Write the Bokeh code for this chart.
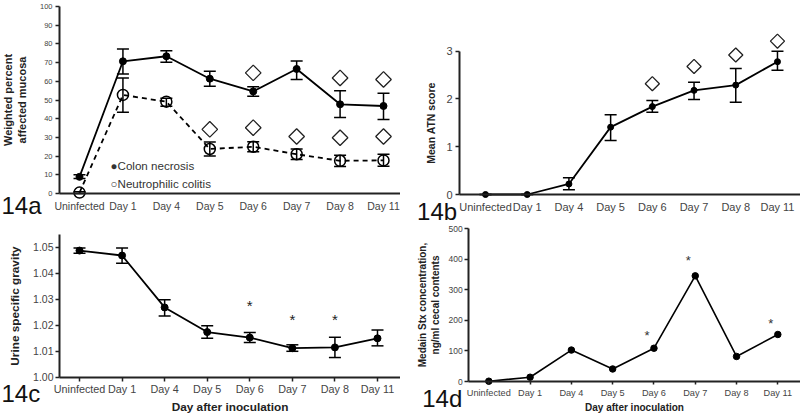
from bokeh.plotting import figure
from bokeh.models import (Range1d, FixedTicker, Whisker, TeeHead, ColumnDataSource,
                          Label, NumeralTickFormatter, LinearAxis)
from bokeh.layouts import column, row
from bokeh.embed import file_html
from bokeh.resources import INLINE
from bokeh.core.properties import value
import math

FONT = "Liberation Sans"

days = ["Uninfected", "Day 1", "Day 4", "Day 5", "Day 6", "Day 7", "Day 8", "Day 11"]

# 14a  weighted percent affected mucosa
necrosis = [8.9, 70.7, 73.4, 61.4, 54.6, 66.6, 47.7, 46.8]
necrosis_lo = [8.0, 63.9, 70.2, 57.3, 52.0, 61.0, 40.7, 39.6]
necrosis_hi = [10.0, 77.3, 76.4, 65.4, 57.1, 70.9, 55.0, 53.6]
colitis = [0.5, 52.7, 49.1, 23.8, 25.0, 21.0, 17.5, 17.7]
colitis_lo = [0.0, 43.4, 46.6, 20.0, 22.3, 18.2, 14.5, 14.6]
colitis_hi = [1.0, 61.8, 50.9, 27.5, 27.7, 23.8, 20.5, 21.0]
sig_a_upper_days = ["Day 6", "Day 8", "Day 11"]
sig_a_upper = [64.5, 61.8, 61.0]
sig_a_lower_days = ["Day 5", "Day 6", "Day 7", "Day 8", "Day 11"]
sig_a_lower = [34.3, 35.2, 30.5, 29.8, 30.5]
ticks_a = [0, 10, 20, 30, 40, 50, 60, 70, 80, 90, 100]

# 14b  mean ATN score
atn = [0.0, 0.0, 0.22, 1.41, 1.84, 2.18, 2.29, 2.78]
atn_lo = [0.0, 0.0, 0.10, 1.13, 1.72, 1.99, 1.93, 2.60]
atn_hi = [0.0, 0.0, 0.35, 1.67, 1.97, 2.35, 2.64, 3.00]
sig_b_days = ["Day 6", "Day 7", "Day 8", "Day 11"]
sig_b = [2.32, 2.68, 2.92, 3.21]
ticks_b = [0, 1, 2, 3]

# 14c  urine specific gravity
usg = [1.0487, 1.0468, 1.0268, 1.0173, 1.0152, 1.0111, 1.0114, 1.0149]
usg_lo = [1.0477, 1.0438, 1.0235, 1.0149, 1.0133, 1.0099, 1.0075, 1.0120]
usg_hi = [1.0497, 1.0497, 1.0298, 1.0197, 1.0171, 1.0124, 1.0153, 1.0181]
sig_c_days = ["Day 6", "Day 7", "Day 8"]
sig_c = [1.0286, 1.0232, 1.0232]
ticks_c = [1.00, 1.01, 1.02, 1.03, 1.04, 1.05]

# 14d  median Stx concentration
stx = [1, 14, 103, 41, 109, 346, 82, 154]
sig_d_days = ["Day 6", "Day 7", "Day 11"]
sig_d = [162, 405, 200]
ticks_d = [0, 100, 200, 300, 400, 500]

idx = {d: i for i, d in enumerate(days)}
xpos = list(range(len(days)))
AX = "#222222"
TXT = "#444444"


def make_panel(ox, oy, W, H, yaxis_sx, x0_sx, px_per_cat, v0, v0_sy, px_per_unit, ytop):
    """Figure whose frame is the whole canvas; axes are pinned with fixed_location."""
    xs = (ox - x0_sx) / px_per_cat
    xe = (ox + W - x0_sx) / px_per_cat
    ye = v0 + (v0_sy - oy) / px_per_unit
    ys = v0 - (oy + H - v0_sy) / px_per_unit
    x_axis_at = (yaxis_sx - x0_sx) / px_per_cat
    p = figure(width=W, height=H, x_range=Range1d(xs, xe), y_range=Range1d(ys, ye),
               output_backend="svg", toolbar_location=None,
               x_axis_location=None, y_axis_location=None,
               min_border_left=0, min_border_right=0, min_border_top=0, min_border_bottom=0)
    p.outline_line_color = None
    p.background_fill_color = "white"
    p.border_fill_color = "white"
    for g in p.grid:
        g.visible = False

    xa = LinearAxis(fixed_location=v0, bounds=(x_axis_at, xe),
                    ticker=FixedTicker(ticks=xpos),
                    major_label_overrides={i: d for i, d in enumerate(days)})
    ya = LinearAxis(fixed_location=x_axis_at, bounds=(v0, ytop))
    for ax in (xa, ya):
        ax.axis_line_color = AX
        ax.axis_line_width = 2
        ax.major_tick_line_color = AX
        ax.major_tick_line_width = 1.5
        ax.major_tick_out = 4
        ax.major_tick_in = 0
        ax.minor_tick_line_color = None
        ax.major_label_text_color = TXT
        ax.major_label_text_font = FONT
        ax.axis_label_text_font = FONT
        ax.axis_label_text_font_style = "bold"
        ax.axis_label_text_color = "#222222"
    p.add_layout(xa, "below")
    p.add_layout(ya, "left")
    return p, xa, ya


def whiskers(p, y_lo, y_hi, w=1.5, head=12):
    src = ColumnDataSource(dict(x=xpos, lo=y_lo, hi=y_hi))
    p.add_layout(Whisker(source=src, base="x", lower="lo", upper="hi",
                         line_color="black", line_width=w,
                         lower_head=TeeHead(size=head, line_width=w, line_color="black"),
                         upper_head=TeeHead(size=head, line_width=w, line_color="black")))


def panel_label(p, x, y, text):
    p.add_layout(Label(x=x, y=y, text=text, text_font=FONT, text_font_size="24px",
                       text_color="#111111", text_baseline="middle"))


# ---------- 14a ----------
pa, xa, ya = make_panel(0, 0, 400, 224, 59, 79, 43.43, 0, 193, 1.87, 100)
ya.ticker = FixedTicker(ticks=ticks_a)
ya.major_label_text_font_size = "7.5px"
ya.major_label_standoff = 3
ya.axis_label = "Weighted percent\naffected mucosa"
ya.axis_label_text_font_size = "11px"
ya.axis_label_standoff = 9
xa.major_label_text_font_size = "10.5px"
xa.major_label_standoff = 6
xa.major_tick_out = 0

whiskers(pa, necrosis_lo, necrosis_hi)
whiskers(pa, colitis_lo, colitis_hi)
pa.line(xpos, necrosis, line_color="black", line_width=1.8)
pa.scatter(xpos, necrosis, size=7, color="black")
pa.line(xpos, colitis, line_color="black", line_width=1.8, line_dash="5 4")
pa.scatter(xpos, colitis, size=11, line_color="black", line_width=1.5, fill_color=None)
pa.scatter([idx[d] for d in sig_a_upper_days], sig_a_upper, marker="square", angle=math.pi / 4,
           size=11, line_color="#222222", line_width=1.3, fill_color=None)
pa.scatter([idx[d] for d in sig_a_lower_days], sig_a_lower, marker="square", angle=math.pi / 4,
           size=11, line_color="#222222", line_width=1.3, fill_color=None)
pa.add_layout(Label(x=0.714, y=15.0, text="\u25cfColon necrosis", text_font=FONT,
                    text_font_size="11.6px", text_color="#333333", text_baseline="middle"))
pa.add_layout(Label(x=0.714, y=5.5, text="\u25cbNeutrophilic colitis", text_font=FONT,
                    text_font_size="11.6px", text_color="#333333", text_baseline="middle"))
panel_label(pa, -1.796, -6.4, "14a")

# ---------- 14b ----------
pb, xb, yb = make_panel(400, 0, 400, 224, 459, 485, 41.71, 0, 194, 47.77, 3)
yb.ticker = FixedTicker(ticks=ticks_b)
yb.major_label_text_font_size = "11px"
yb.major_label_standoff = 3
yb.axis_label = "Mean ATN score"
yb.axis_label_text_font_size = "10.5px"
yb.axis_label_standoff = 6
xb.major_label_text_font_size = "11px"
xb.major_label_standoff = 6
xb.major_tick_out = 0

whiskers(pb, atn_lo, atn_hi)
pb.line(xpos, atn, line_color="black", line_width=1.8)
pb.scatter(xpos, atn, size=6, color="black")
pb.scatter([idx[d] for d in sig_b_days], sig_b, marker="square", angle=math.pi / 4,
           size=10, line_color="#222222", line_width=1.3, fill_color=None)
panel_label(pb, -1.64, -0.35, "14b")

# ---------- 14c ----------
pc, xc, yc = make_panel(0, 224, 400, 190, 59, 79, 42.57, 1.0, 376.5, 2596.0, 1.0549)
yc.ticker = FixedTicker(ticks=ticks_c)
yc.formatter = NumeralTickFormatter(format="0.00")
yc.major_label_text_font_size = "10.5px"
yc.major_label_standoff = 2
yc.axis_label = "Urine specific gravity"
yc.axis_label_text_font_size = "11.8px"
yc.axis_label_standoff = 8
xc.major_label_text_font_size = "10.8px"
xc.major_label_standoff = 2
xc.axis_label = "Day after inoculation"
xc.axis_label_text_font_size = "11.8px"
xc.axis_label_standoff = 1

whiskers(pc, usg_lo, usg_hi)
pc.line(xpos, usg, line_color="black", line_width=1.8)
pc.scatter(xpos, usg, size=7, color="black")
pc.text([idx[d] for d in sig_c_days], sig_c, text=["*"] * len(sig_c), text_font=value(FONT),
        text_font_size="15px", text_color="#222222", text_align="center",
        text_baseline="middle", y_offset=3)
panel_label(pc, -1.832, 0.99361, "14c")

# ---------- 14d ----------
pd_, xd, yd = make_panel(400, 224, 400, 190, 468.3, 488.3, 41.29, 0, 381, 0.3053, 500)
yd.ticker = FixedTicker(ticks=ticks_d)
yd.major_label_text_font_size = "8.5px"
yd.major_label_standoff = 2
yd.axis_label = "Medain Stx concentration,\nng/ml cecal contents"
yd.axis_label_text_font_size = "10px"
yd.axis_label_standoff = 4
xd.major_label_text_font_size = "9.2px"
xd.major_label_standoff = 3
xd.major_tick_out = 3
xd.axis_label = "Day after inoculation"
xd.axis_label_text_font_size = "10px"
xd.axis_label_standoff = 1

pd_.line(xpos, stx, line_color="black", line_width=1.6)
pd_.scatter(xpos, stx, size=6.5, color="black")
pd_.text([idx[d] for d in sig_d_days], sig_d, text=["*"] * len(sig_d), text_font=value(FONT),
         text_font_size="13px", text_color="#333333", text_align="center",
         text_baseline="middle", x_offset=-7, y_offset=3)
panel_label(pd_, -1.613, -55.7, "14d")

layout = column(row(pa, pb), row(pc, pd_))
open("out.html", "w").write(file_html(layout, INLINE))
